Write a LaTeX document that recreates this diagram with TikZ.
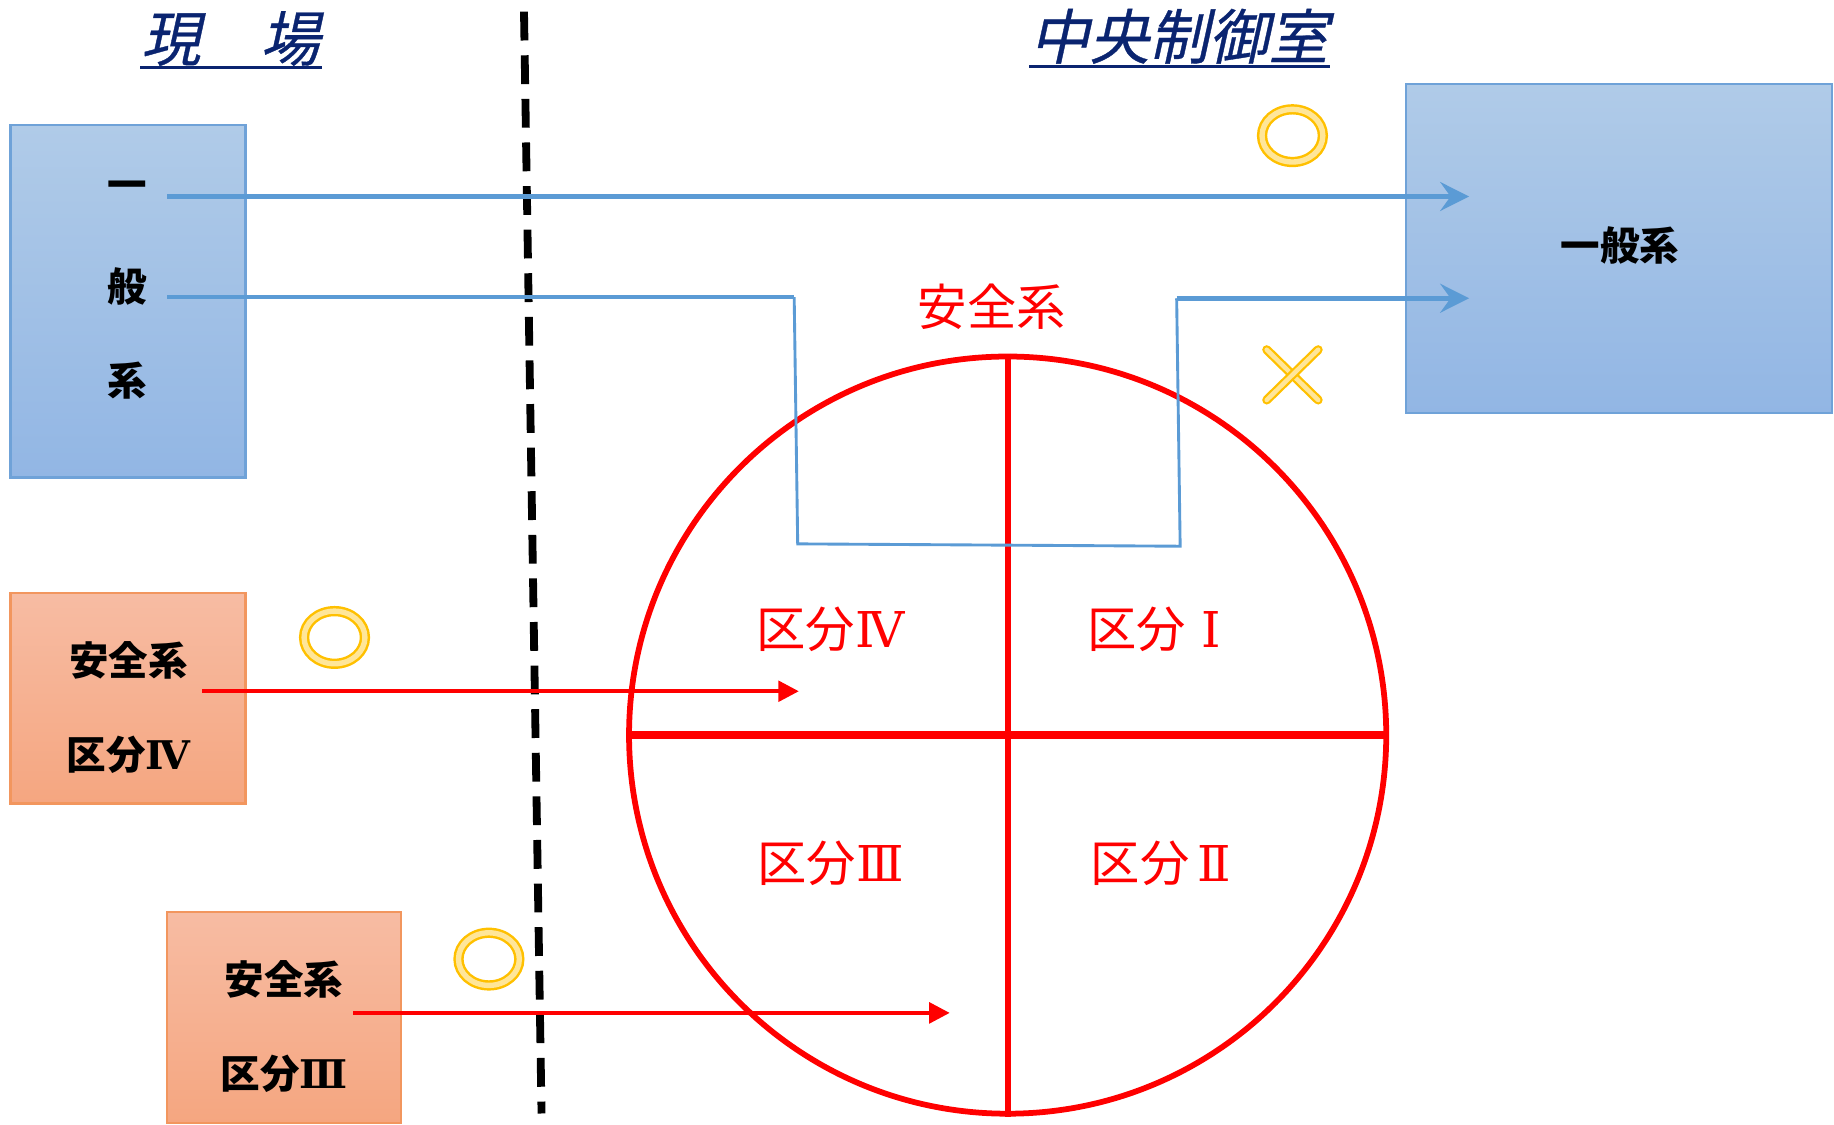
\documentclass[tikz,border=0pt]{standalone}
\usepackage{fontspec}
\setmainfont{Noto Sans CJK JP}
\newfontfamily\titlefont[FakeSlant=0.22,FakeBold=0.6]{Noto Sans CJK JP}
\newfontfamily\romfont{DejaVu Serif}
\usetikzlibrary{arrows.meta,shapes.geometric}
\definecolor{navy}{HTML}{0A2470}
\definecolor{bluetop}{HTML}{B0CBE8}
\definecolor{bluebot}{HTML}{92B6E4}
\definecolor{blueedge}{HTML}{6FA2D8}
\definecolor{bluearr}{HTML}{5B9BD5}
\definecolor{orgtop}{HTML}{F7BCA3}
\definecolor{orgbot}{HTML}{F5A680}
\definecolor{orgedge}{HTML}{F2965E}
\definecolor{gold}{HTML}{FFC000}
\definecolor{lightgold}{HTML}{FFE699}
\definecolor{pured}{HTML}{FF0000}
\newcommand{\rn}[1]{{\romfont #1}}
\newcommand{\rnw}[1]{\makebox[1em]{\romfont #1}}
\tikzset{
  bluebox/.style={rectangle, draw=blueedge, line width=0.6pt, top color=bluetop, bottom color=bluebot, inner sep=0pt},
  orgbox/.style={rectangle, draw=orgedge, line width=0.6pt, top color=orgtop, bottom color=orgbot, inner sep=0pt},
  boxtext/.style={font=\fontsize{9.6}{11}\selectfont\bfseries, text=black, inner sep=0pt},
  redtext/.style={font=\fontsize{12}{14}\selectfont, text=pured, inner sep=0pt},
  titletext/.style={font=\titlefont\fontsize{14.5}{16}\selectfont, text=navy, inner sep=0pt},
  bluearrow/.style={draw=bluearr, line width=1.1pt, -{Stealth[length=7pt,width=7pt,inset=2.5pt]}},
  blueline/.style={draw=bluearr, line width=0.7pt},
  redarrow/.style={draw=pured, line width=0.95pt, -{Triangle[length=5pt,width=5pt]}},
  yo/.style={ellipse, draw=gold, line width=0.6pt, double=lightgold, double distance=1.3pt, minimum width=0.52cm, minimum height=0.45cm, inner sep=0pt},
  yx/.style={draw=gold, line width=0.55pt, double=lightgold, double distance=1.1pt, line cap=round},
  redline/.style={draw=pured, line width=1.5pt},
}
\begin{document}
\begin{tikzpicture}[x=0.01cm,y=-0.01cm]
\useasboundingbox (0,0) rectangle (1568,961);
% titles
\node[titletext] (tgenba) at (197,33) {現　場};
\draw[navy, line width=0.8pt] (120,58) -- (275,58);
\node[titletext] (tchuo) at (1008,31) {中央制御室};
\draw[navy, line width=0.8pt] (880,57) -- (1137,57);
% divider
\coordinate (dtop) at (448,10);
\coordinate (dbot) at (463,952);
\draw[black, line width=1.9pt, dash pattern=on 7pt off 3.6pt] (dtop) -- (dbot);
% left general box
\node[bluebox, minimum width=2.01cm, minimum height=3.01cm] (gen) at (109.5,257.5) {};
\node[boxtext] (g1) at (109,163) {一};
\node[boxtext] (g2) at (109,245) {般};
\node[boxtext] (g3) at (109,325) {系};
% right general box
\node[bluebox, minimum width=3.64cm, minimum height=2.81cm] (genr) at (1384,212.5) {};
\node[boxtext] (gr) at (1385,210) {一般系};
% safety boxes
\node[orgbox, minimum width=2.01cm, minimum height=1.80cm] (s4box) at (109.5,597) {};
\node[boxtext] (s4a) at (110,565) {安全系};
\node[boxtext] (s4b) at (110,645) {区分\rn{Ⅳ}};
\node[orgbox, minimum width=2.00cm, minimum height=1.80cm] (s3box) at (243,870) {};
\node[boxtext] (s3a) at (243,837) {安全系};
\node[boxtext] (s3b) at (243,918) {区分\rn{Ⅲ}};
% circle
\node[circle, draw=pured, line width=1.4pt, minimum size=6.47cm, inner sep=0pt] (C) at (861.5,628.5) {};
\draw[redline] (C.north) -- (C.south);
\draw[redline, line width=1.8pt] (C.west) -- (C.east);
\node[redtext] (safe) at (848,262) {安全系};
\node[redtext] (q4) at (710,538) {区分\rn{Ⅳ}};
\node[redtext] (q1) at (993,538) {区分\rnw{Ⅰ}};
\node[redtext] (q3) at (710,738) {区分\rn{Ⅲ}};
\node[redtext] (q2) at (996,738) {区分\rnw{Ⅱ}};
% blue connectors
\coordinate (a1s) at (143,168);
\coordinate (a1e) at (1256,168);
\coordinate (a2s) at (143,254);
\coordinate (b1) at (679,254);
\coordinate (b2) at (682,465);
\coordinate (b3) at (1009,467);
\coordinate (b4) at (1006,255);
\coordinate (a2e) at (1256,255);
\draw[bluearrow] (a1s) -- (a1e);
\draw[draw=bluearr, line width=1.1pt] (a2s) -- (b1);
\draw[blueline, line join=miter] (b1) -- (b2) -- (b3) -- (b4);
\draw[bluearrow] (b4) -- (a2e);
% red connectors
\coordinate (r4s) at (173,591);
\coordinate (r4e) at (683,591);
\coordinate (r3s) at (302,866);
\coordinate (r3e) at (812,866);
\draw[redarrow] (r4s) -- (r4e);
\draw[redarrow] (r3s) -- (r3e);
% marks
\node[yo] (o1) at (1105,116) {};
\node[yo] (o2) at (286,545) {};
\node[yo] (o3) at (418,820) {};
\coordinate (xa) at (1083,299);
\coordinate (xb) at (1127,342);
\coordinate (xc) at (1127,299);
\coordinate (xd) at (1083,342);
\draw[yx] (xa) -- (xb);
\draw[yx] (xc) -- (xd);
\end{tikzpicture}
\end{document}
